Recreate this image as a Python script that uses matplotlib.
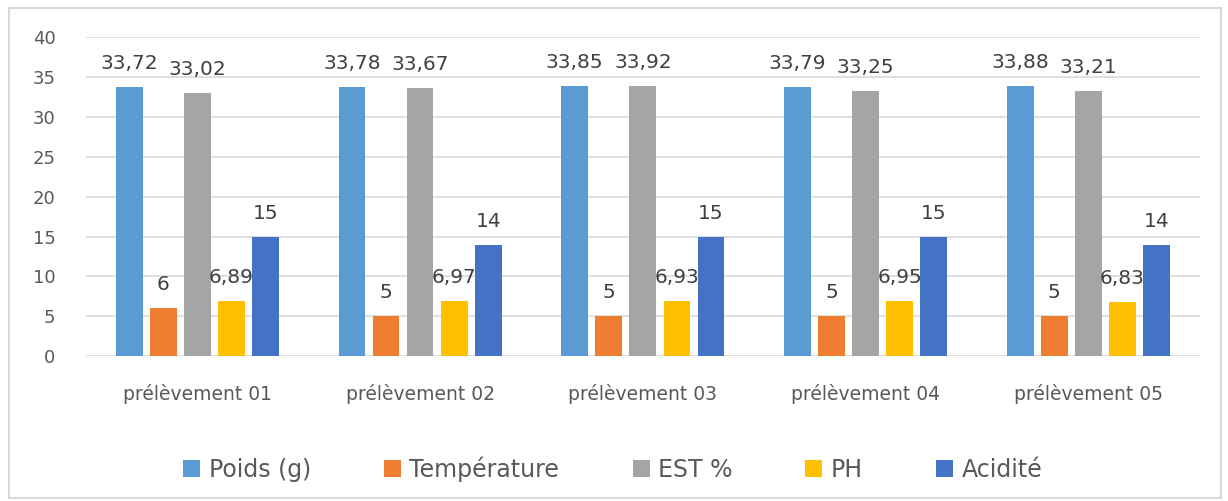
import numpy as np
import matplotlib.pyplot as plt
from matplotlib.patches import Rectangle

plt.rcParams['font.family'] = ['DejaVu Sans']

categories = ['prélèvement 01', 'prélèvement 02', 'prélèvement 03',
              'prélèvement 04', 'prélèvement 05']
series_names = ['Poids (g)', 'Température', 'EST %', 'PH', 'Acidité']
poids = [33.72, 33.78, 33.85, 33.79, 33.88]
temperature = [6, 5, 5, 5, 5]
est = [33.02, 33.67, 33.92, 33.25, 33.21]
ph = [6.89, 6.97, 6.93, 6.95, 6.83]
acidite = [15, 14, 15, 15, 14]

colors = ['#5B9BD5', '#ED7D31', '#A5A5A5', '#FFC000', '#4472C4']
text_grey = '#595959'


def fmt(v):
    return f'{v:g}'.replace('.', ',')


fig = plt.figure(figsize=(12.28, 5.01), dpi=100)
ax = fig.add_axes([0.070, 0.289, 0.907, 0.637])

# light border around the whole chart area
fig.patches.append(Rectangle((0.007, 0.006), 0.987, 0.978, transform=fig.transFigure,
                             fill=False, edgecolor='#d9d9d9', linewidth=1.5))

x = np.arange(len(categories))
step = 0.153
width = 0.12
all_series = [poids, temperature, est, ph, acidite]
for i, (name, vals, col) in enumerate(zip(series_names, all_series, colors)):
    bars = ax.bar(x + (i - 2) * step, vals, width, color=col, label=name, zorder=3)
    ax.bar_label(bars, labels=[fmt(v) for v in vals], padding=10,
                 fontsize=14.5, color='#404040')

ax.set_xlim(-0.5, len(categories) - 0.5)
ax.set_ylim(0, 40)
ax.set_yticks(range(0, 41, 5))
ax.set_xticks(x)
ax.set_xticklabels(categories)
ax.tick_params(axis='x', length=0, pad=20, labelsize=13.5, labelcolor=text_grey)
ax.tick_params(axis='y', length=0, pad=22, labelsize=13, labelcolor=text_grey)
ax.grid(axis='y', color='#d9d9d9', linewidth=1.2, zorder=0)
for s in ax.spines.values():
    s.set_visible(False)

fig.legend(loc='center', bbox_to_anchor=(0.499, 0.064), ncol=5, frameon=False,
           fontsize=17, handlelength=0.72, handleheight=0.72, handletextpad=0.35,
           columnspacing=3.1, labelcolor=text_grey)

fig.savefig('out.png', dpi=100)
